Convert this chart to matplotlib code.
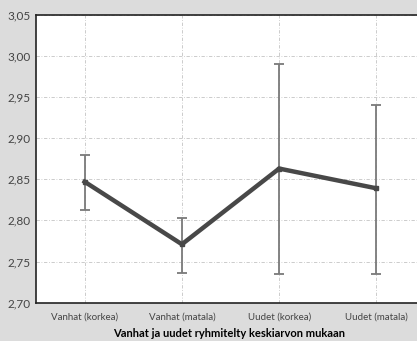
import matplotlib
matplotlib.use("Agg")
import matplotlib.pyplot as plt
import numpy as np
from matplotlib.ticker import FuncFormatter

CATEGORIES = ["Vanhat (korkea)", "Vanhat (matala)", "Uudet (korkea)", "Uudet (matala)"]
MEANS = [2.847, 2.771, 2.863, 2.839]
UPPER = [2.879, 2.803, 2.990, 2.940]
LOWER = [2.813, 2.736, 2.735, 2.735]
Y_TICKS = [2.70, 2.75, 2.80, 2.85, 2.90, 2.95, 3.00, 3.05]
XLABEL = "Vanhat ja uudet ryhmitelty keskiarvon mukaan"

BG = "#dcdcdc"
LINE = "#484848"
ERR = "#7a7a7a"
GRID = "#c4c4c4"

plt.rcParams["font.family"] = ["Lato", "DejaVu Sans"]

fig = plt.figure(figsize=(4.17, 3.41), dpi=100, facecolor=BG)
ax = fig.add_axes([36 / 417, 38.3 / 341, 1 - 36 / 417 + 0.01, 288 / 341])
ax.set_facecolor("white")

x = np.arange(len(CATEGORIES))
means = np.array(MEANS)
yerr = [means - np.array(LOWER), np.array(UPPER) - means]

ax.errorbar(x, means, yerr=yerr, fmt="none", ecolor=ERR, elinewidth=1.3,
            capsize=3.3, capthick=1.3, zorder=2)
ax.plot(x, means, color=LINE, linewidth=3.2, marker="s", markersize=3,
        solid_joinstyle="miter", zorder=3)

ax.set_xlim(-0.5, 3.46)
ax.set_ylim(2.70, 3.05)
ax.set_yticks(Y_TICKS)
ax.yaxis.set_major_formatter(FuncFormatter(lambda v, _: f"{v:.2f}".replace(".", ",")))
ax.set_xticks(x)
ax.set_xticklabels(CATEGORIES, fontsize=7, color="#444")
ax.tick_params(axis="y", labelsize=8.5, colors="#444", length=0, pad=4)
ax.tick_params(axis="x", length=0, pad=7)
ax.set_xlabel(XLABEL, fontsize=8, fontweight="bold", labelpad=5)

ax.grid(True, color=GRID, linestyle=(0, (4, 2, 1, 2)), linewidth=0.6)
ax.set_axisbelow(True)

for side in ["left", "bottom", "top"]:
    ax.spines[side].set_color("#222")
    ax.spines[side].set_linewidth(1.2)
ax.spines["right"].set_visible(False)

fig.savefig("out.png", dpi=100, facecolor=BG)
